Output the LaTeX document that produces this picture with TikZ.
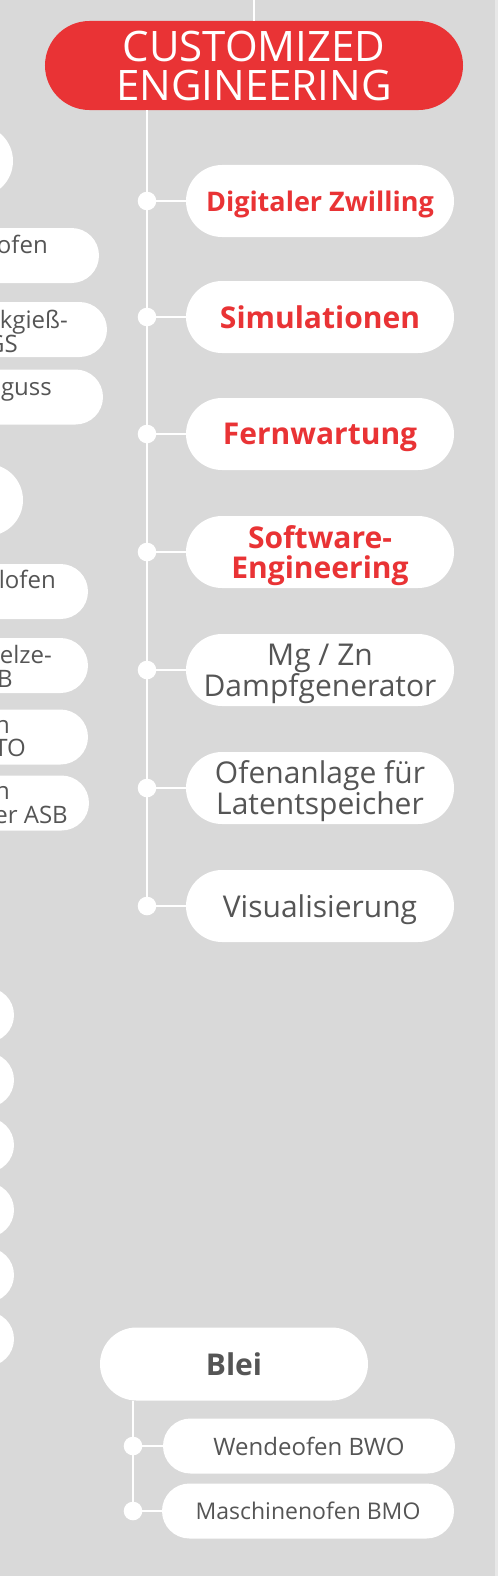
\documentclass[tikz,border=0pt]{standalone}
\usepackage{fontspec}
\setmainfont{Open Sans}
\definecolor{bg}{RGB}{217,217,217}
\definecolor{edgegray}{RGB}{232,232,232}
\definecolor{cered}{RGB}{233,51,53}
\definecolor{txtgray}{RGB}{85,85,85}
\tikzset{
  pillbox/.style={fill=white, draw=none, inner sep=0pt, align=center, text=txtgray, text depth=0pt},
  bigpill/.style={pillbox, minimum width=268bp, minimum height=72bp, rounded corners=36bp},
  smallpill/.style={pillbox, minimum height=55bp, rounded corners=27.5bp},
  headpill/.style={fill=cered, draw=none, inner sep=0pt, align=center, text=white, text depth=0pt,
    minimum width=418bp, minimum height=89bp, rounded corners=44.5bp,
    font=\fontsize{42bp}{39bp}\selectfont},
  redtext/.style={font=\fontsize{30bp}{30bp}\selectfont\bfseries, text=cered},
  redsmall/.style={font=\fontsize{27bp}{30bp}\selectfont\bfseries, text=cered},
  graytext/.style={font=\fontsize{30bp}{28.5bp}\selectfont, text=txtgray},
  boldgray/.style={font=\fontsize{30bp}{30bp}\selectfont\bfseries, text=txtgray},
  smalltext/.style={font=\fontsize{24bp}{23bp}\selectfont, text=txtgray},
  smallertext/.style={font=\fontsize{23bp}{23bp}\selectfont, text=txtgray},
  conn/.style={draw=white, line width=2bp},
  dotnode/.style={circle, fill=white, minimum size=18.6bp, inner sep=0pt},
  frag/.style={font=\fontsize{24bp}{23bp}\selectfont, text=txtgray, inner sep=0pt, anchor=base east},
}
\begin{document}
\begin{tikzpicture}[x=1bp,y=-1bp]
\useasboundingbox (0,0) rectangle (498,1576);
\clip (0,0) rectangle (498,1576);
\fill[bg] (0,0) rectangle (498,1576);
\fill[edgegray] (495,0) rectangle (498,1576);

% header
\coordinate (top) at (254,0);
\node[headpill] (ce) at (254,65.5) {CUSTOMIZED\\ENGINEERING};
\draw[conn] (top) -- (ce.north);

% dots of the main trunk
\node[dotnode] (d1) at (147,201) {};
\node[dotnode] (d2) at (147,317) {};
\node[dotnode] (d3) at (147,434) {};
\node[dotnode] (d4) at (147,552) {};
\node[dotnode] (d5) at (147,670) {};
\node[dotnode] (d6) at (147,788) {};
\node[dotnode] (d7) at (147,906) {};
\draw[conn] (d1 |- ce.south) -- (d7.center);

% main pills
\node[bigpill, redsmall] (dz) at (320,201) {Digitaler Zwilling};
\node[bigpill, redtext] (sim) at (320,317) {Simulationen};
\node[bigpill, redtext] (fw) at (320,434) {Fernwartung};
\node[bigpill, redtext] (se) at (320,552) {Software-\\Engineering};
\node[bigpill, graytext] (mg) at (320,670) {Mg / Zn\\Dampfgenerator};
\node[bigpill, graytext] (of) at (320,788) {Ofenanlage für\\Latentspeicher};
\node[bigpill, graytext] (vis) at (320,906) {Visualisierung};
\draw[conn] (d1.center) -- (dz.west);
\draw[conn] (d2.center) -- (sim.west);
\draw[conn] (d3.center) -- (fw.west);
\draw[conn] (d4.center) -- (se.west);
\draw[conn] (d5.center) -- (mg.west);
\draw[conn] (d6.center) -- (of.west);
\draw[conn] (d7.center) -- (vis.west);

% left column (cut off)
\node[bigpill, minimum width=200bp] (L1) at (-87,161) {};
\node[bigpill, minimum width=200bp] (L2) at (-77,500) {};
\node[smallpill, minimum width=200bp] (L3) at (-1,255.5) {};
\node[smallpill, minimum width=200bp] (L4) at (7,329.5) {};
\node[smallpill, minimum width=200bp] (L5) at (3,397) {};
\node[smallpill, minimum width=200bp] (L6) at (-12,591.5) {};
\node[smallpill, minimum width=200bp] (L7) at (-12,665.5) {};
\node[smallpill, minimum width=200bp] (L8) at (-12,737) {};
\node[smallpill, minimum width=200bp] (L9) at (-11,803) {};
\node[smallpill, minimum width=200bp] (M1) at (-86,1015) {};
\node[smallpill, minimum width=200bp] (M2) at (-86,1080) {};
\node[smallpill, minimum width=200bp] (M3) at (-86,1145) {};
\node[smallpill, minimum width=200bp] (M4) at (-86,1210) {};
\node[smallpill, minimum width=200bp] (M5) at (-86,1275) {};
\node[smallpill, minimum width=200bp] (M6) at (-86,1339) {};

\node[frag] (t3) at (48,253) {ofen};
\node[frag] (t4a) at (68,328) {kgieß-};
\node[frag] (t4b) at (18,352) {GS};
\node[frag] (t5) at (52,395) {guss};
\node[frag] (t6) at (56,588) {lofen};
\node[frag] (t7a) at (52,663) {elze-};
\node[frag] (t7b) at (13,687) {B};
\node[frag] (t8a) at (10,733) {n};
\node[frag] (t8b) at (26,756) {TO};
\node[frag] (t9a) at (10,799) {n};
\node[frag] (t9b) at (68,823) {er ASB};

% Blei group
\node[dotnode] (b1) at (133,1446) {};
\node[dotnode] (b2) at (133,1511) {};
\node[bigpill, boldgray, minimum height=73bp, rounded corners=36.5bp] (blei) at (234,1364) {Blei};
\draw[conn] (b1 |- blei.south) -- (b2.center);
\node[smallpill, smalltext, minimum width=292bp] (bwo) at (309,1446) {Wendeofen BWO};
\node[smallpill, smallertext, minimum width=292bp] (bmo) at (308,1511) {Maschinenofen BMO};
\draw[conn] (b1.center) -- (bwo.west);
\draw[conn] (b2.center) -- (bmo.west);
\end{tikzpicture}
\end{document}
